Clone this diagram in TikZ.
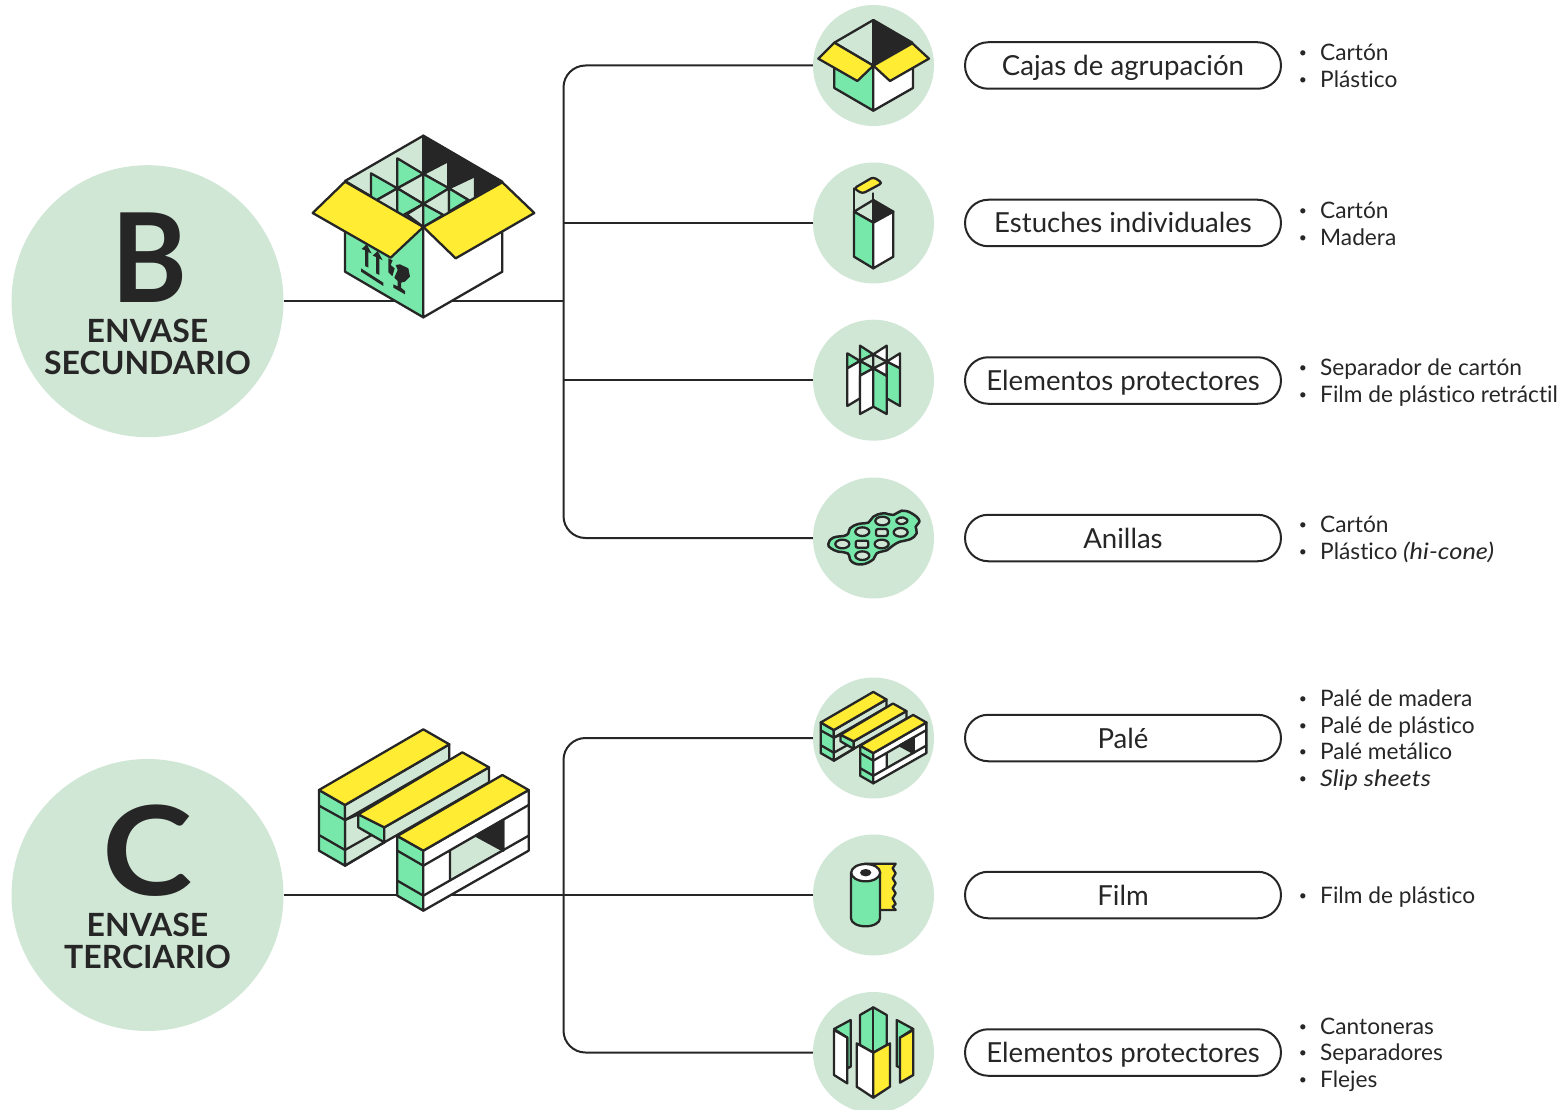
\documentclass[tikz,border=0pt]{standalone}
\usepackage{fontspec}
\setmainfont{Lato}[Ligatures=NoCommon]
\usetikzlibrary{shapes.misc}
\definecolor{ink}{HTML}{262626}
\definecolor{pale}{HTML}{D1E7D6}
\definecolor{mint}{HTML}{78E8AA}
\definecolor{sun}{HTML}{FFEC33}
\newcommand{\fs}[1]{\fontsize{#1}{#1}\selectfont}
\newcommand{\ita}[1]{{\itshape\addfontfeature{FakeStretch=1.12}#1}}
\tikzset{
  bigc/.style={circle,fill=pale,minimum size=272pt,inner sep=0pt},
  iconc/.style={circle,fill=pale,minimum size=121pt,inner sep=0pt},
  pill/.style={rounded rectangle,draw=ink,line width=2pt,fill=white,minimum width=316pt,minimum height=46.5pt,inner sep=0pt,text=ink,text height=20pt,text depth=0pt,font=\fs{27.6}},
  letter/.style={text=ink,inner sep=0pt,font=\fs{124}\bfseries},
  captxt/.style={text=ink,inner sep=0pt,align=center,font=\fs{32}\bfseries},
  itm/.style={anchor=base west,text=ink,inner sep=0pt,font=\fs{22.7}},
  bul/.style={anchor=base,text=ink,inner sep=0pt,font=\fs{14}},
  wire/.style={draw=ink,line width=2pt},
  zm/.style 2 args={shift={(#1,#2)},x=.33333pt,y=-.33333pt},
  ic/.style={draw=ink,line join=round,line cap=round,line width=#1},
  ic/.default=2.3pt
}
\newcommand{\itemline}[3]{%
  \node[bul] (b#1) at (1303,#2+5.5) {•};
  \node[itm] (t#1) at (1320,#2+8.5) {#3};}
\newcommand{\pallet}[1]{%
  \begin{scope}[ic=#1]
  % back board
  \path[fill=pale,ic=#1] (135,300)--(175,283)--(253,322)--(253,367)--(135,437)--cycle;
  \draw[fill=mint] (57,210)--(135,255)--(135,437)--(57,392)--cycle;
  \draw (57,257)--(135,300) (57,345)--(135,390)--(215,345);
  \draw (135,437)--(253,367);
  \draw[fill=pale] (135,255)--(448,73)--(448,120)--(135,300)--cycle;
  \draw[fill=sun] (57,210)--(370,28)--(448,73)--(135,255)--cycle;
  % middle board
  \draw[fill=mint] (175,283)--(253,322)--(253,367)--(175,322)--cycle;
  \draw[fill=pale] (253,322)--(567,142)--(567,187)--(253,367)--cycle;
  \draw[fill=sun] (175,283)--(487,97)--(567,142)--(253,322)--cycle;
  % front board
  \draw[fill=mint] (292,348)--(370,392)--(370,572)--(292,527)--cycle;
  \draw (292,392)--(370,437) (292,482)--(370,527);
  \draw[fill=white] (370,392)--(686,210)--(686,392)--(370,572)--cycle;
  \path[fill=pale] (450,392)--(527,347)--(610,392)--(450,482)--cycle;
  \draw[fill=ink] (527,347)--(610,300)--(610,392)--cycle;
  \draw (370,437)--(686,255) (370,527)--(686,347) (450,392)--(450,482) (610,300)--(610,392);
  \draw[fill=sun] (292,348)--(607,165)--(686,210)--(370,392)--cycle;
  \end{scope}}
\begin{document}
\begin{tikzpicture}[x=1pt,y=-1pt]
\useasboundingbox (0,0) rectangle (1564,1110);
% main nodes
\node[bigc] (B) at (147.5,301.2) {};
\node[bigc] (C) at (147.5,895) {};
\node[letter] (lB) at (149,257.5) {\addfontfeature{FakeStretch=.93}B};
\node[letter] (lC) at (148,851) {\addfontfeature{FakeStretch=1.1}C};
\node[captxt] (nB1) at (147.5,331) {ENVASE};
\node[captxt] (nB2) at (147.5,363) {SECUNDARIO};
\node[captxt] (nC1) at (147.5,925) {ENVASE};
\node[captxt] (nC2) at (147.5,957) {TERCIARIO};
% icon discs
\node[iconc] (c1) at (873.5,65.5) {};
\node[iconc] (c2) at (873.5,223) {};
\node[iconc] (c3) at (873.5,380.2) {};
\node[iconc] (c4) at (873.5,538) {};
\node[iconc] (c5) at (873.5,738) {};
\node[iconc] (c6) at (873.5,895) {};
\node[iconc] (c7) at (873.5,1052.5) {};
% connectors
\coordinate (jB) at (563.5,301.2);
\coordinate (jC) at (563.5,895);
\draw[wire] (B.east) -- (jB);
\draw[wire] (C.east) -- (c6.west);
\draw[wire,rounded corners=22pt] (c1.west) -- (c1.west -| jB) -- (c4.west -| jB) -- (c4.west);
\draw[wire] (c2.west) -- (c2.west -| jB);
\draw[wire] (c3.west) -- (c3.west -| jB);
\draw[wire,rounded corners=22pt] (c5.west) -- (c5.west -| jC) -- (c7.west -| jC) -- (c7.west);
% pills
\node[pill] (p1) at (1123,65.5) {Cajas de agrupación};
\node[pill] (p2) at (1123,223) {Estuches individuales};
\node[pill] (p3) at (1123,380.5) {Elementos protectores};
\node[pill] (p4) at (1123,538) {Anillas};
\node[pill] (p5) at (1123,738) {Palé};
\node[pill] (p6) at (1123,895) {Film};
\node[pill] (p7) at (1123,1052.5) {Elementos protectores};
% lists
\itemline{a}{52}{Cartón}
\itemline{b}{79}{Plástico}
\itemline{c}{210}{Cartón}
\itemline{d}{237}{Madera}
\itemline{e}{367}{Separador de cartón}
\itemline{f}{394}{Film de plástico retráctil}
\itemline{g}{524}{Cartón}
\itemline{h}{551}{Plástico \ita{(hi-cone)}}
\itemline{i}{698}{Palé de madera}
\itemline{j}{725}{Palé de plástico}
\itemline{k}{751}{Palé metálico}
\itemline{l}{778}{\ita{Slip sheets}}
\itemline{m}{895}{Film de plástico}
\itemline{n}{1026}{Cantoneras}
\itemline{o}{1052}{Separadores}
\itemline{p}{1079}{Flejes}
% big box
\begin{scope}[zm={300}{125},ic]
\draw[fill=pale] (135,168)--(370,32)--(370,306)--cycle;
\draw[fill=ink] (370,32)--(607,170)--(370,306)--cycle;
\draw[fill=pale] (447,190)--(525,153)--(525,237)--cycle;
\draw[fill=pale] (370,147)--(445,108)--(445,190)--cycle;
\draw[fill=mint] (292,100)--(370,147)--(292,190)--cycle;
\draw[fill=mint] (213,145)--(292,190)--(213,235)--cycle;
\draw[fill=pale] (292,190)--(370,147)--(370,237)--cycle;
\draw[fill=mint] (370,147)--(447,190)--(370,237)--cycle;
\draw[fill=pale] (213,235)--(292,190)--(292,280)--cycle;
\draw[fill=mint] (292,190)--(370,237)--(292,280)--cycle;
\draw[fill=pale] (370,237)--(447,190)--(447,280)--cycle;
\draw[fill=mint] (447,190)--(505,225)--(447,260)--cycle;
\draw[fill=pale] (370,237)--(370,306)--(320,268)--cycle;
\draw[fill=mint] (370,237)--(430,270)--(370,306)--cycle;
\draw[fill=mint] (135,300)--(370,306)--(370,577)--(135,440)--cycle;
\draw[fill=white] (370,306)--(607,300)--(607,440)--(370,577)--cycle;
\draw[fill=sun] (135,170)--(38,264)--(272,398)--(370,306)--cycle;
\draw[fill=sun] (607,172)--(703,264)--(467,400)--(370,306)--cycle;
% handling marks
\begin{scope}[shift={(165,330)}]
\path[fill=ink] (20,42)--(35,28)--(50,56)--(40,51)--(40,98)--(30,93)--(30,46)--cycle;
\path[fill=ink] (53,62)--(68,48)--(83,76)--(73,71)--(73,120)--(63,115)--(63,66)--cycle;
\path[fill=ink] (18,100)--(85,143)--(85,153)--(18,110)--cycle;
\path[fill=ink] (100,70)--(113,76)--(107,90)--(119,100)--(112,124)--(100,112)--cycle;
\path[fill=ink] (135,88)--(160,100)--(165,125)--(150,140)--(138,143)--(138,158)--(150,168)--(150,178)--(115,158)--(115,148)--(128,154)--(128,138)--(118,128)--(128,105)--(122,90)--cycle;
\end{scope}
\end{scope}
% icon 1
\begin{scope}[zm={805}{0},ic]
\draw[fill=pale] (88,128)--(205,60)--(205,197)--cycle;
\draw[fill=ink] (205,60)--(322,128)--(205,197)--cycle;
\draw[fill=mint] (88,180)--(205,197)--(205,332)--(88,264)--cycle;
\draw[fill=white] (205,197)--(324,180)--(324,264)--(205,332)--cycle;
\draw[fill=sun] (88,128)--(40,176)--(157,243)--(205,197)--cycle;
\draw[fill=sun] (322,130)--(372,176)--(255,243)--(205,197)--cycle;
\end{scope}
% icon 2
\begin{scope}[zm={805}{155},ic]
\draw (147,100)--(147,170) (205,115)--(205,135);
\draw[fill=sun,rounded corners=3pt] (147,100)--(205,66)--(232,84)--(172,116)--cycle;
\draw[fill=pale] (147,170)--(205,135)--(205,203)--cycle;
\draw[fill=ink] (205,135)--(265,170)--(205,203)--cycle;
\draw[fill=mint] (147,170)--(205,203)--(205,340)--(147,305)--cycle;
\draw[fill=white] (205,203)--(265,170)--(265,305)--(205,340)--cycle;
\end{scope}
% icon 3
\begin{scope}[zm={805}{315},ic]
\draw[fill=white] (205,118)--(245,92)--(245,140)--cycle;
\draw[fill=white] (245,140)--(285,115)--(285,160)--cycle;
\draw[fill=mint] (165,92)--(205,118)--(165,138)--cycle;
\draw[fill=mint] (127,115)--(165,138)--(127,160)--cycle;
\draw[fill=pale] (165,138)--(205,118)--(205,160)--cycle;
\draw[fill=mint] (165,138)--(205,160)--(165,182)--cycle;
\draw[fill=white] (205,160)--(245,140)--(245,183)--cycle;
\draw[fill=mint] (245,140)--(285,160)--(285,273)--(245,250)--cycle;
\draw[fill=white] (127,160)--(165,138)--(165,250)--(127,273)--cycle;
\draw[fill=white] (165,182)--(205,160)--(205,275)--(165,297)--cycle;
\draw[fill=mint] (205,160)--(245,183)--(245,297)--(205,275)--cycle;
\end{scope}
% icon 4
\begin{scope}[zm={805}{470},ic]
\draw[fill=mint,line width=2.5pt] plot[smooth cycle,tension=.75] coordinates {(70,222) (85,203) (125,195) (135,175) (160,162) (190,158) (205,140) (235,130) (265,135) (290,122) (320,130) (343,152) (332,170) (335,190) (315,208) (285,215) (262,228) (247,240) (215,250) (205,268) (172,283) (140,275) (128,250) (100,245) (78,235)};
\foreach \x/\y in {112/222,172/185,232/153,287/187,230/222,172/257}
  \draw[fill=pale] (\x,\y) ellipse [x radius=21,y radius=13];
\draw[fill=pale,rounded corners=2pt] (152,212)--(190,212)--(190,233)--(152,233)--cycle;
\draw[fill=pale,rounded corners=2pt] (213,177)--(248,177)--(248,198)--(213,198)--cycle;
\draw[fill=pale,rounded corners=2pt] (272,150)--(290,140)--(310,150)--(300,162)--(278,162)--cycle;
\end{scope}
% icon 5
\begin{scope}[shift={(873.3,783.3)},x=.168pt,y=-.168pt,shift={(-370,-572)}]
\pallet{2.3pt}
\end{scope}
% icon 6
\begin{scope}[zm={805}{825},ic]
\draw[fill=sun] (180,116)--(272,116)--(263,130)--(272,145)--(263,160)--(272,175)--(263,190)--(272,205)--(263,220)--(272,237)--(263,245)--(272,255)--(215,255)--cycle;
\draw[fill=mint] (138,143)--(138,280) arc[start angle=180,end angle=0,x radius=43.5,y radius=24]--(225,143)--cycle;
\draw[fill=white] (182,143) ellipse [x radius=43.5,y radius=26];
\path[fill=ink] (182,143) ellipse [x radius=17,y radius=11];
\end{scope}
% icon 7
\begin{scope}[zm={805}{985},ic]
\draw[fill=mint] (165,90)--(205,67)--(245,90)--(245,180)--(205,203)--(165,180)--cycle;
\draw (205,67)--(205,203);
\draw[fill=white] (155,175)--(205,203)--(205,338)--(155,305)--cycle;
\draw[fill=sun] (205,203)--(255,175)--(255,305)--(205,338)--cycle;
\draw[fill=mint] (87,132)--(137,105)--(137,245)--(127,250)--(127,158)--cycle;
\draw[fill=white] (87,135)--(127,158)--(127,295)--(87,270)--cycle;
\draw[fill=mint] (275,105)--(325,132)--(285,158)--(285,248)--(275,243)--cycle;
\draw[fill=sun] (285,158)--(325,135)--(325,270)--(285,293)--cycle;
\end{scope}
% big pallet
\begin{scope}[zm={300}{720}]
\pallet{2.3pt}
\end{scope}
\end{tikzpicture}
\end{document}
